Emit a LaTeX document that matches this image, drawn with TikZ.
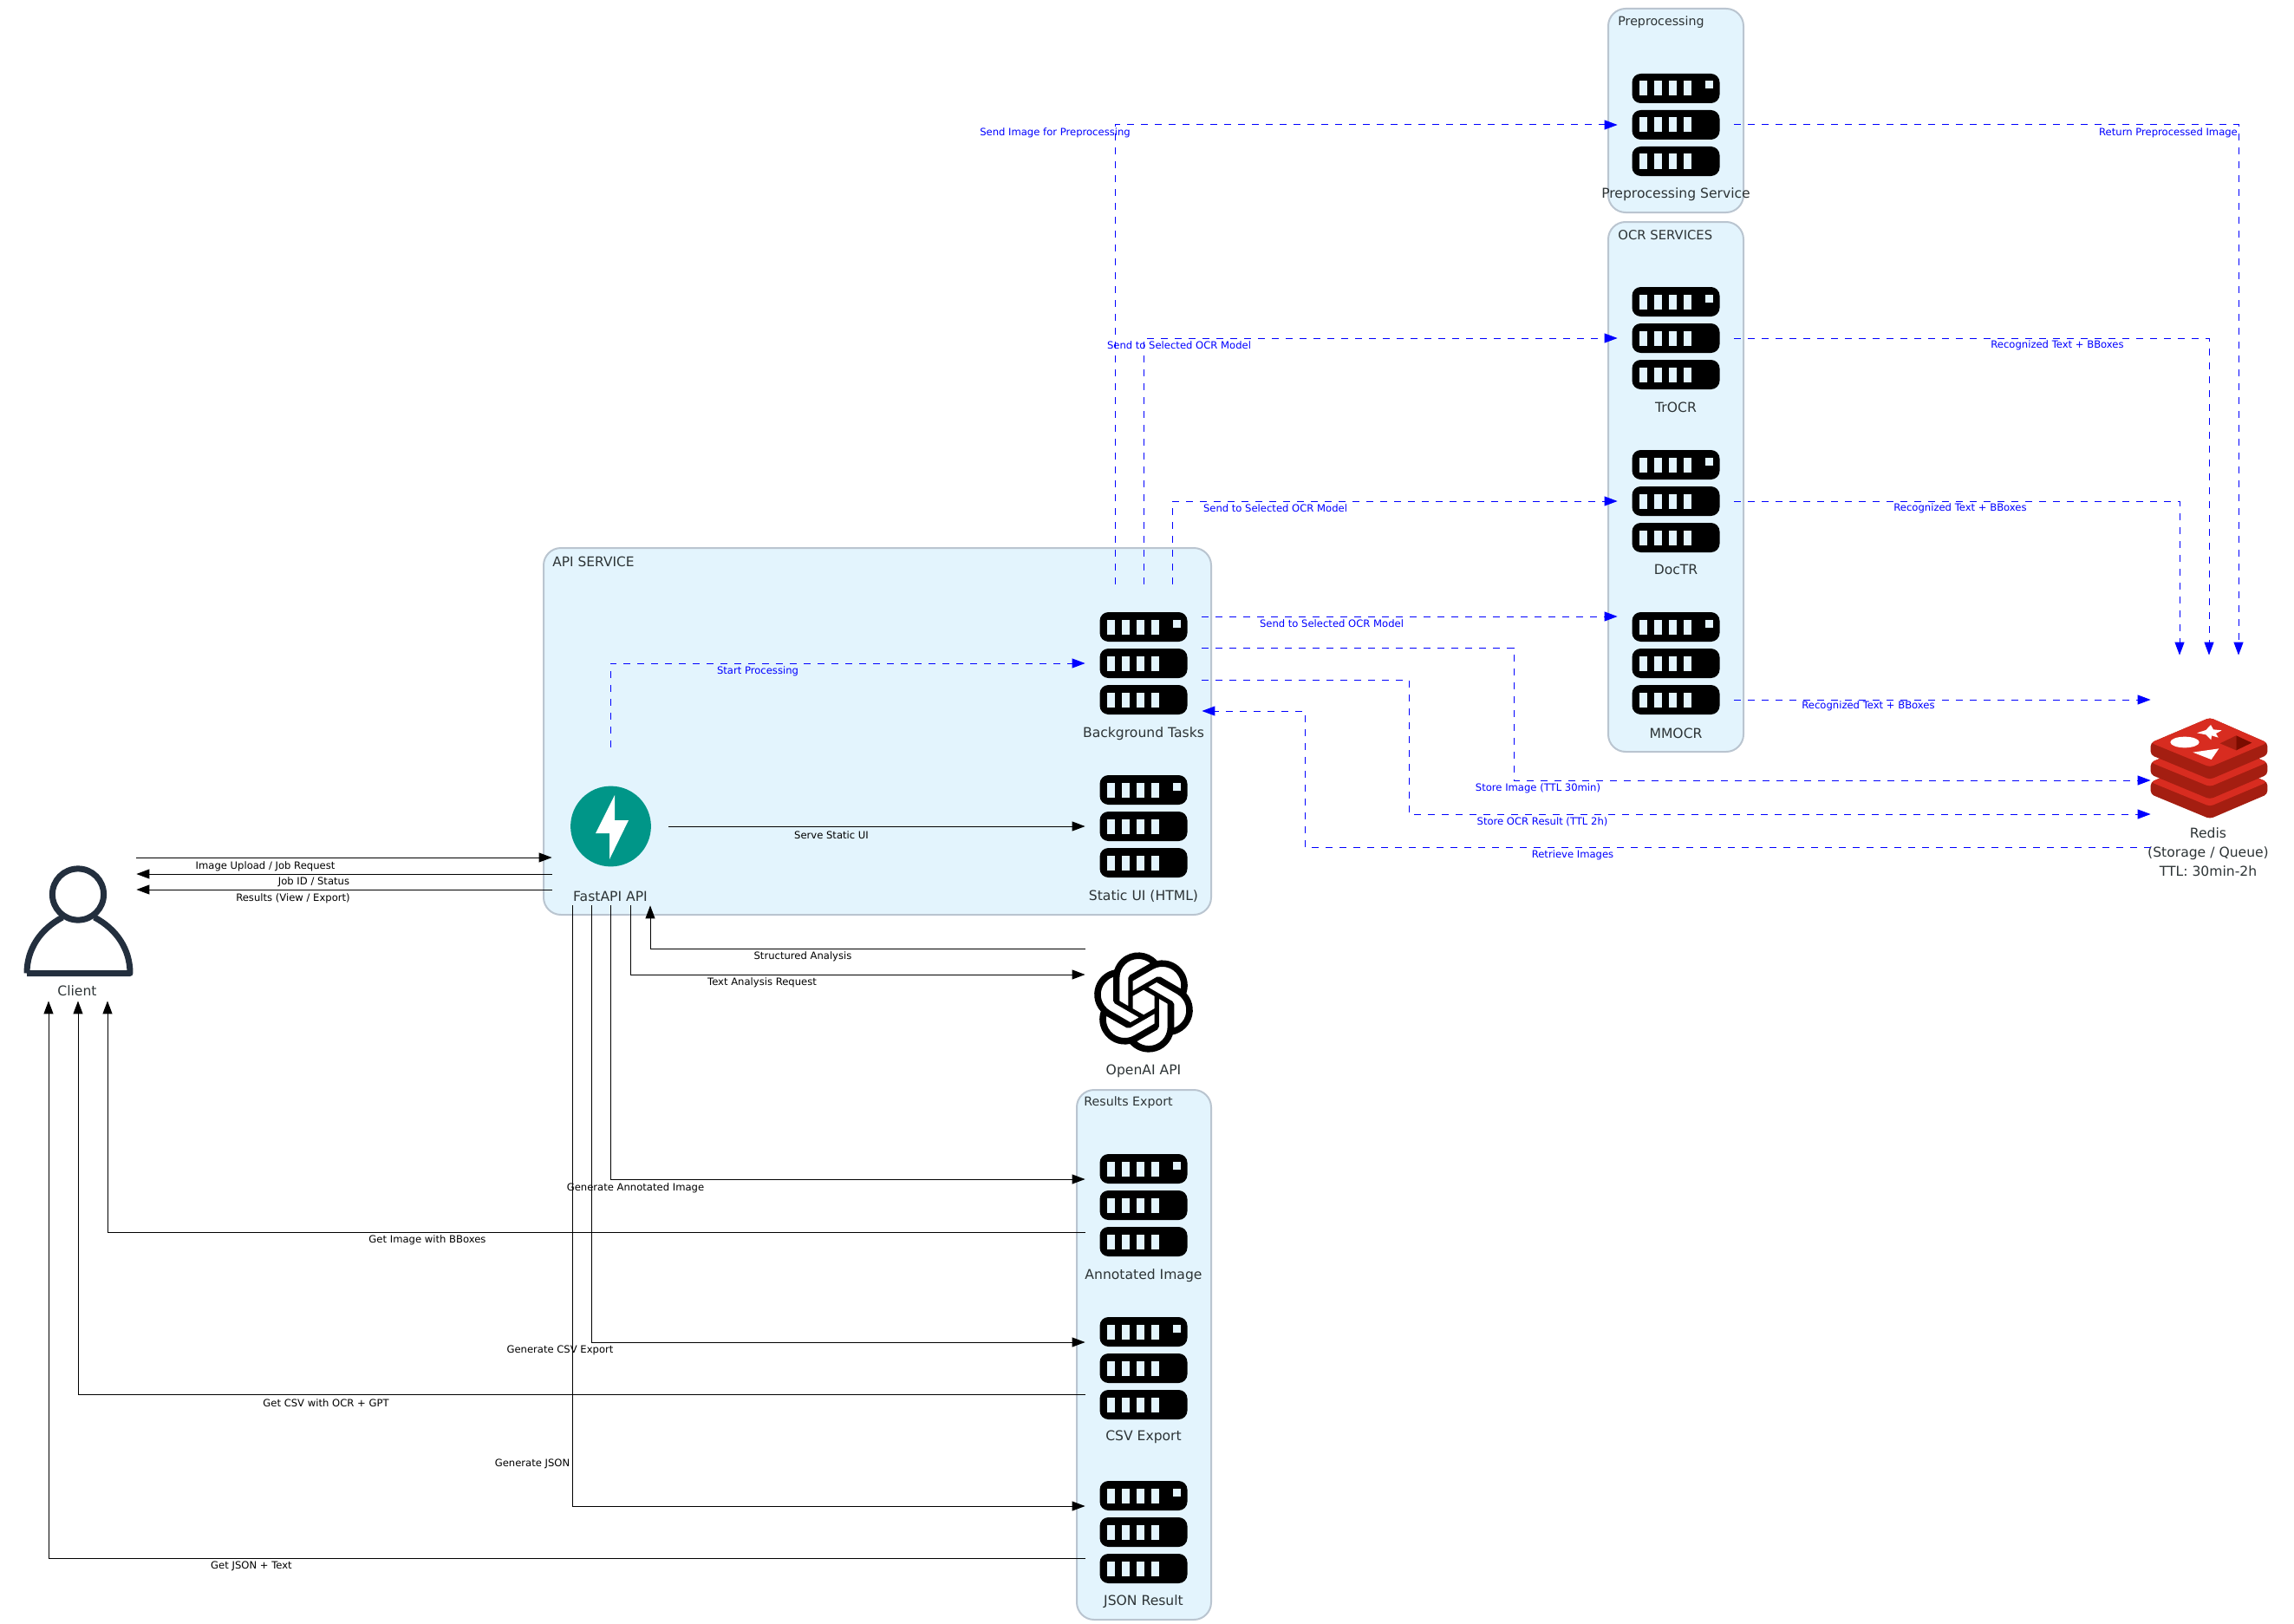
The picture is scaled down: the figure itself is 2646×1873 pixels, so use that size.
\documentclass[tikz,border=0pt]{standalone}
\usepackage{fontspec}
\setmainfont{DejaVu Sans}
\usetikzlibrary{arrows.meta,svg.path}
\definecolor{clfill}{HTML}{E3F4FD}
\definecolor{clline}{HTML}{BAC5D0}
\definecolor{txt}{HTML}{2D3436}
\definecolor{person}{HTML}{232F3E}
\definecolor{teal}{HTML}{009688}
\definecolor{rlight}{HTML}{D82C20}
\definecolor{rdark}{HTML}{A41E11}
\definecolor{rdeep}{HTML}{7A0C00}
\tikzset{
  cluster/.style={draw=clline,fill=clfill,line width=1pt,rounded corners=10pt},
  cltitle/.style={anchor=west,inner sep=0,text=txt,yshift=-.5pt,font=\fontsize{7.1}{8}\selectfont},
  iconbox/.style={rectangle,inner sep=0,minimum width=67pt,minimum height=91pt},
  nlabel/.style={inner sep=0,text=txt,yshift=-.4pt,font=\fontsize{7.8}{11}\selectfont,align=center},
  elabel/.style={inner sep=0,yshift=-.6pt,font=\fontsize{5.8}{7}\selectfont},
  blabel/.style={elabel,text=blue},
  solidflow/.style={draw=black,line width=.5pt,-{Triangle[length=7.5pt,width=5.5pt]}},
  dashflow/.style={draw=blue,line width=.5pt,dash pattern=on 4pt off 4pt,-{Triangle[length=7.5pt,width=5.5pt]}},
}
\newcommand{\srv}[3]{%
  \node[iconbox] (#1) at (#2,#3) {};
  \begin{scope}[shift={(#2,#3)}]
    \foreach \r in {-42,0,42} {
      \fill[black,rounded corners=5pt] (-50.5,\r-17) rectangle (50.5,\r+17);
      \foreach \b in {-42.5,-25.5,-8.5,8.5}
        \fill[clfill] (\b,\r-8.5) rectangle (\b+9,\r+8.5);
    }
    \fill[clfill] (33.5,-50.5) rectangle (42.5,-41.5);
  \end{scope}
}
\begin{document}
\begin{tikzpicture}[x=.5pt,y=-.5pt]
\fill[white] (0,0) rectangle (2646,1873);
\useasboundingbox (0,0) rectangle (2646,1873);
% clusters
\draw[cluster] (627,632) rectangle (1397,1055);
\draw[cluster] (1855,10) rectangle (2011,245);
\draw[cluster] (1855,256) rectangle (2011,867);
\draw[cluster] (1242,1257) rectangle (1397,1868);
\node[cltitle,font=\fontsize{7.7}{8}\selectfont] (tapi) at (637,647) {API SERVICE};
\node[cltitle] (tpre) at (1866,25) {Preprocessing};
\node[cltitle,font=\fontsize{7.4}{8}\selectfont] (tocr) at (1866,270) {OCR SERVICES};
\node[cltitle] (tres) at (1250,1271) {Results Export};
% server icons
\srv{bg}{1319}{765}
\srv{static}{1319}{953}
\srv{pre}{1933}{144}
\srv{trocr}{1933}{390}
\srv{doctr}{1933}{578}
\srv{mmocr}{1933}{765}
\srv{ann}{1319}{1390}
\srv{csv}{1319}{1578}
\srv{json}{1319}{1767}
% FastAPI
\node[iconbox] (fast) at (704,953) {};
\fill[teal] (704.5,953) circle[radius=23.2pt];
\fill[white] (709,917) -- (687,961) -- (703,961) -- (703,991) -- (725,946) -- (709,946) -- cycle;
% Client
\node[iconbox] (client) at (90,1063) {};
\draw[person,line width=3.5pt] (90,1031.5) circle[radius=14.8pt];
\draw[person,line width=3.5pt,line join=round] (31,1122.5) .. controls (31,1095) and (46,1072) .. (72,1058)
  (109,1058) .. controls (135,1072) and (150,1095) .. (150,1122.5) -- (31,1122.5);
% OpenAI
\node[iconbox] (oa) at (1319,1156) {};
\fill[black,shift={(1319,1156)},scale=2.4,yscale=-1,shift={(-12pt,-12pt)}] svg {M 22.2819 9.8211 a 5.9847 5.9847 0 0 0 -0.5157 -4.9108 a 6.0462 6.0462 0 0 0 -6.5098 -2.9 A 6.0651 6.0651 0 0 0 4.9807 4.1818 a 5.9847 5.9847 0 0 0 -3.9977 2.9 a 6.0462 6.0462 0 0 0 0.7427 7.0966 a 5.98 5.98 0 0 0 0.511 4.9107 a 6.051 6.051 0 0 0 6.5146 2.9001 A 5.9847 5.9847 0 0 0 13.2599 24 a 6.0557 6.0557 0 0 0 5.7718 -4.2058 a 5.9894 5.9894 0 0 0 3.9977 -2.9001 a 6.0557 6.0557 0 0 0 -0.7475 -7.0729 z
M 13.2599 22.4292 a 4.4755 4.4755 0 0 1 -2.8764 -1.0408 l 0.1419 -0.0804 l 4.7783 -2.7582 l 0.3927 -0.6813 v -6.7369 l 2.02 1.1686 l 0.038 0.052 v 5.5826 a 4.504 4.504 0 0 1 -4.4945 4.4944 z
M 3.5992 18.3038 a 4.4708 4.4708 0 0 1 -0.5346 -3.0137 l 0.142 0.0852 l 4.783 2.7582 l 0.7806 0 l 5.8428 -3.3685 v 2.3324 l -0.0332 0.0615 L 9.74 19.9502 a 4.4992 4.4992 0 0 1 -6.1408 -1.6464 z
M 2.3408 7.8956 a 4.485 4.485 0 0 1 2.3655 -1.9728 V 11.6 l 0.3879 0.6765 l 5.8144 3.3543 l -2.0201 1.1685 l -0.071 0 l -4.8303 -2.7865 A 4.504 4.504 0 0 1 2.3408 7.872 z
M 18.9371 11.7514 L 13.1038 8.364 L 15.1192 7.2 l 0.071 0 l 4.8303 2.7913 a 4.4944 4.4944 0 0 1 -0.6765 8.1042 v -5.6772 l -0.407 -0.667 z
M 20.9478 8.7283 l -0.142 -0.0852 l -4.7735 -2.7818 l -0.7854 0 L 9.409 9.2297 V 6.8974 l 0.0284 -0.0615 l 4.8303 -2.7866 a 4.4992 4.4992 0 0 1 6.6802 4.66 z
M 8.3065 12.863 l -2.02 -1.1638 l -0.038 -0.0567 V 6.0742 a 4.4992 4.4992 0 0 1 7.3757 -3.4537 l -0.142 0.0805 L 8.704 5.459 l -0.3927 0.6813 z
M 9.4041 10.4976 l 2.602 -1.4998 l 2.6069 1.4998 v 2.9994 l -2.5974 1.4997 l -2.6067 -1.4997 z};
% Redis
\node[iconbox,minimum height=131pt] (redis) at (2548,887) {};
\begin{scope}[shift={(2450,780)},scale=1/3]
  \foreach \d in {136,68,0} {
    \fill[rdark,rounded corners=2pt] (92,230+\d) -- (297,143+\d) -- (496,230+\d) -- (496,272+\d) -- (297,357+\d) -- (92,272+\d) -- cycle;
    \fill[rlight,rounded corners=2pt] (92,230+\d) -- (297,143+\d) -- (496,230+\d) -- (297,314+\d) -- cycle;
  }
  \fill[white] (210,228) ellipse[x radius=25pt,y radius=9.5pt];
  \fill[white] (300,168) -- (309,184) -- (338,187) -- (318,198) -- (326,212) -- (303,205) -- (301,220) -- (283,202) -- (252,196) -- (283,186) -- cycle;
  \fill[white] (238,263) -- (328,250) -- (302,288) -- cycle;
  \fill[rdark] (332,232) -- (388,205) -- (388,256) -- cycle;
  \fill[rdeep] (388,205) -- (442,230) -- (388,256) -- cycle;
\end{scope}
% node labels
\node[nlabel] (lbg) at (1319,845) {Background Tasks};
\node[nlabel] (lstatic) at (1319,1033) {Static UI (HTML)};
\node[nlabel] (lpre) at (1933,223) {Preprocessing Service};
\node[nlabel] (ltr) at (1933,469) {TrOCR};
\node[nlabel] (ldoc) at (1933,656) {DocTR};
\node[nlabel] (lmm) at (1933,845) {MMOCR};
\node[nlabel] (lann) at (1319,1470) {Annotated Image};
\node[nlabel] (lcsv) at (1319,1657) {CSV Export};
\node[nlabel] (ljson) at (1319,1846) {JSON Result};
\node[nlabel] (lfast) at (704,1033) {FastAPI API};
\node[nlabel] (lclient) at (89,1142) {Client};
\node[nlabel] (loa) at (1319,1235) {OpenAI API};
\node[nlabel] (lredis) at (2547,982) {Redis\\(Storage / Queue)\\TTL: 30min-2h};
% solid edges
\draw[solidflow] ([yshift=37pt]client.east) -- ([yshift=-18pt]fast.west);
\draw[solidflow] ([yshift=-27.5pt]fast.west) -- ([yshift=27.5pt]client.east);
\draw[solidflow] ([yshift=-36.5pt]fast.west) -- ([yshift=18.5pt]client.east);
\draw[solidflow] (fast.east) -- (static.west);
\draw[solidflow] ([yshift=31pt]oa.west) -| ([xshift=23pt]fast.south);
\draw[solidflow] ([xshift=11.5pt]fast.south) |- ([yshift=16pt]oa.west);
\draw[solidflow] (fast.south) |- ([yshift=15pt]ann.west);
\draw[solidflow] ([xshift=-11pt]fast.south) |- ([yshift=15pt]csv.west);
\draw[solidflow] ([xshift=-22pt]fast.south) |- ([yshift=15pt]json.west);
\draw[solidflow] ([yshift=-15.5pt]ann.west) -| ([xshift=17pt]client.south);
\draw[solidflow] ([yshift=-15pt]csv.west) -| (client.south);
\draw[solidflow] ([yshift=-15pt]json.west) -| ([xshift=-17pt]client.south);
% dashed edges
\coordinate (imgbend) at (1746,830);
\coordinate (ocrbend) at (1625,860);
\coordinate (retbend) at (1505,900);
\draw[dashflow] (fast.north) |- (bg.west);
\draw[dashflow] ([xshift=-16.5pt]bg.north) |- (pre.west);
\draw[dashflow] (bg.north) |- (trocr.west);
\draw[dashflow] ([xshift=16.5pt]bg.north) |- (doctr.west);
\draw[dashflow] ([yshift=27pt]bg.east) -- ([yshift=27pt]mmocr.west);
\draw[dashflow] ([yshift=9pt]bg.east) -| (imgbend) |- ([yshift=-6.5pt]redis.west);
\draw[dashflow] ([yshift=-9.5pt]bg.east) -| (ocrbend) |- ([yshift=-26pt]redis.west);
\draw[dashflow] ([yshift=-45pt]redis.west) -| (retbend) |- ([yshift=-27.5pt]bg.east);
\draw[dashflow] (pre.east) -| ([xshift=17pt]redis.north);
\draw[dashflow] (trocr.east) -| (redis.north);
\draw[dashflow] (doctr.east) -| ([xshift=-17pt]redis.north);
\draw[dashflow] ([yshift=-21pt]mmocr.east) -- ([yshift=40pt]redis.west);
% edge labels
\node[elabel] (e1) at (306,998) {Image Upload / Job Request};
\node[elabel] (e2) at (362,1016) {Job ID / Status};
\node[elabel] (e3) at (338,1035) {Results (View / Export)};
\node[elabel] (e4) at (959,962) {Serve Static UI};
\node[elabel] (e5) at (926,1102) {Structured Analysis};
\node[elabel] (e6) at (879,1132) {Text Analysis Request};
\node[elabel] (e7) at (733,1369) {Generate Annotated Image};
\node[elabel] (e8) at (646,1556) {Generate CSV Export};
\node[elabel] (e9) at (614,1687) {Generate JSON};
\node[elabel] (e10) at (493,1429) {Get Image with BBoxes};
\node[elabel] (e11) at (376,1617) {Get CSV with OCR + GPT};
\node[elabel] (e12) at (290,1805) {Get JSON + Text};
\node[blabel] (b1) at (874,773) {Start Processing};
\node[blabel] (b2) at (1217,152) {Send Image for Preprocessing};
\node[blabel] (b3) at (1360,397) {Send to Selected OCR Model};
\node[blabel] (b4) at (1471,585) {Send to Selected OCR Model};
\node[blabel] (b5) at (1536,718) {Send to Selected OCR Model};
\node[blabel] (b6) at (1774,908) {Store Image (TTL 30min)};
\node[blabel] (b7) at (1779,947) {Store OCR Result (TTL 2h)};
\node[blabel] (b8) at (1814,985) {Retrieve Images};
\node[blabel] (b9) at (2155,813) {Recognized Text + BBoxes};
\node[blabel] (b10) at (2261,585) {Recognized Text + BBoxes};
\node[blabel] (b11) at (2373,397) {Recognized Text + BBoxes};
\node[blabel] (b12) at (2501,152) {Return Preprocessed Image};
\end{tikzpicture}
\end{document}
